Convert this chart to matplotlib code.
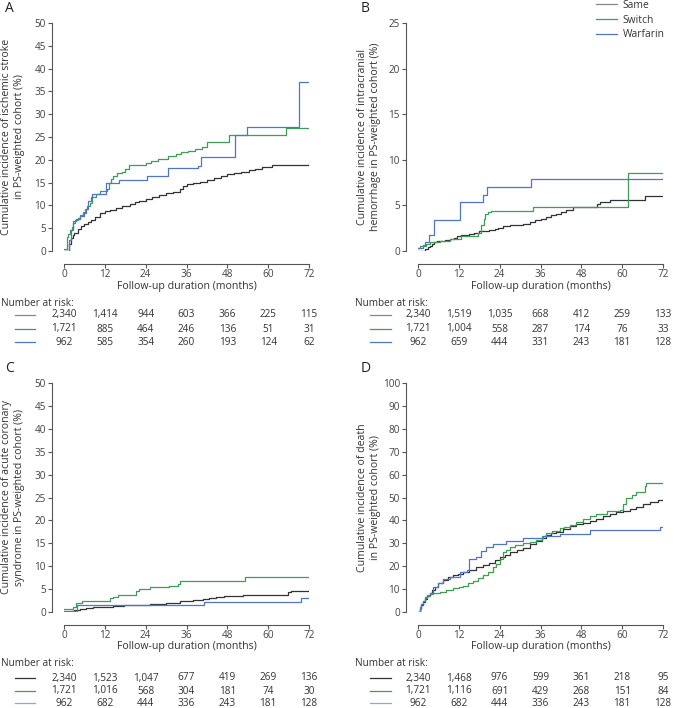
# Kaplan-Meier style cumulative incidence curves, 4 panels with number-at-risk tables
import matplotlib
matplotlib.use("Agg")
import matplotlib.pyplot as plt
from matplotlib.transforms import blended_transform_factory
from matplotlib.lines import Line2D

plt.rcParams['font.family'] = ['Open Sans', 'DejaVu Sans']

# colours
c_same = '#333333'
c_switch = '#3d9e55'
c_warf = '#4f74cc'
c_axis = '#555555'

months = [0, 12, 24, 36, 48, 60, 72]
groups = ['Same', 'Switch', 'Warfarin']

# ---- panel A: ischemic stroke
a_same_t = [0, 1.5, 2.0, 2.5, 3.0, 4.0, 5.0, 6.0, 7.0, 8.0, 9.0, 10.5, 12, 13.5, 15.4, 17, 19.3, 21, 22, 24, 26, 28, 30, 32, 34, 35, 36, 38, 40, 42, 44, 46, 48, 50, 52, 54.4, 56, 58.3, 61, 64, 72]
a_same_y = [0, 1.5, 2.8, 3.5, 4.0, 4.8, 5.4, 5.9, 6.4, 6.9, 7.5, 8.3, 8.8, 9.1, 9.5, 9.8, 10.2, 10.7, 11.0, 11.3, 11.8, 12.3, 12.7, 13.0, 13.5, 14.3, 14.8, 15.0, 15.1, 15.5, 16.0, 16.4, 16.8, 17.1, 17.4, 17.7, 18.0, 18.5, 18.8, 18.9, 19.0]
a_switch_t = [0, 0.8, 1.3, 1.8, 2.3, 2.7, 3.3, 4.0, 4.7, 5.5, 6.2, 6.8, 7.5, 8.2, 9.5, 10.5, 12.6, 13.2, 13.8, 14.5, 15.5, 17.0, 18.0, 19.0, 24.0, 25.5, 27.5, 30.5, 33.0, 34.5, 36.5, 38.5, 40.6, 42.1, 48.6, 65.3, 72]
a_switch_y = [0.4, 3.0, 3.8, 4.6, 5.3, 6.2, 6.8, 7.3, 7.8, 8.5, 9.2, 9.8, 10.6, 11.8, 12.6, 13.2, 13.6, 15.0, 15.8, 16.5, 17.0, 17.3, 18.0, 18.8, 19.3, 19.7, 20.1, 20.9, 21.3, 21.7, 22.0, 22.4, 22.7, 23.8, 25.4, 27.0, 27.0]
a_warf_t = [0, 1.5, 2.0, 2.6, 3.5, 4.7, 5.8, 6.5, 7.0, 7.8, 8.3, 12.4, 13.5, 16.3, 24.3, 30.5, 39.3, 40.3, 50.3, 53.9, 69.0, 72]
a_warf_y = [0, 2.5, 4.5, 6.5, 7.0, 7.6, 8.3, 9.3, 11.0, 11.8, 12.5, 14.9, 14.9, 15.6, 16.5, 18.1, 18.7, 20.6, 25.4, 27.3, 37.0, 37.0]
a_risk_same = [2340, 1414, 944, 603, 366, 225, 115]
a_risk_switch = [1721, 885, 464, 246, 136, 51, 31]
a_risk_warf = [962, 585, 354, 260, 193, 124, 62]

# ---- panel B: intracranial hemorrhage
b_same_t = [0, 2.0, 2.8, 3.4, 4.0, 4.6, 5.5, 6.5, 8.0, 9.5, 10.5, 11.5, 12.5, 13.5, 15.0, 16.5, 18.0, 21.0, 22.5, 23.5, 25.0, 27.0, 31.0, 33.0, 34.5, 36.0, 37.5, 39.0, 40.5, 42.0, 43.5, 45.5, 48.0, 52.5, 53.5, 56.3, 66.8, 72]
b_same_y = [0, 0.2, 0.4, 0.6, 0.8, 1.0, 1.05, 1.1, 1.2, 1.3, 1.45, 1.6, 1.7, 1.8, 1.9, 2.0, 2.2, 2.3, 2.4, 2.5, 2.7, 2.9, 3.0, 3.2, 3.4, 3.5, 3.7, 3.9, 4.1, 4.3, 4.5, 4.8, 4.85, 5.1, 5.4, 5.6, 6.0, 6.0]
b_switch_t = [0, 0.5, 2.4, 3.4, 6.4, 9.3, 12.5, 17.5, 18.6, 19.3, 19.8, 20.5, 21.5, 33.8, 61.6, 72]
b_switch_y = [0.3, 0.6, 0.8, 1.0, 1.15, 1.3, 1.6, 2.0, 2.8, 3.5, 4.1, 4.3, 4.4, 4.8, 8.6, 8.6]
b_warf_t = [0, 1.5, 2.2, 3.3, 4.6, 12.4, 19.2, 20.2, 33.3, 72]
b_warf_y = [0.3, 0.7, 1.0, 1.8, 3.4, 5.4, 6.1, 7.0, 7.9, 7.95]
b_risk_same = [2340, 1519, 1035, 668, 412, 259, 133]
b_risk_switch = [1721, 1004, 558, 287, 174, 76, 33]
b_risk_warf = [962, 659, 444, 331, 243, 181, 128]

# ---- panel C: acute coronary syndrome
c_same_t = [0, 2.0, 3.0, 4.7, 6.5, 8.6, 11.5, 14.4, 17.5, 20.3, 25.2, 30.0, 34.0, 36.0, 37.9, 40.8, 42.5, 44.7, 47.0, 49.6, 52.5, 65.7, 66.6, 72]
c_same_y = [0, 0.3, 0.5, 0.7, 0.85, 1.0, 1.15, 1.3, 1.45, 1.6, 1.8, 2.0, 2.3, 2.4, 2.6, 2.9, 3.1, 3.3, 3.45, 3.6, 3.8, 4.3, 4.6, 4.6]
c_switch_t = [0, 2.5, 3.5, 5.2, 13.5, 14.5, 15.9, 21.3, 22.0, 25.2, 31.0, 33.5, 34.0, 53.2, 72]
c_switch_y = [0.6, 1.2, 2.0, 2.5, 3.0, 3.3, 3.7, 4.6, 5.0, 5.4, 5.7, 6.2, 6.8, 7.6, 7.6]
c_warf_t = [0, 3.9, 41.0, 69.6, 72]
c_warf_y = [0.3, 1.5, 2.2, 3.1, 3.1]
c_risk_same = [2340, 1523, 1047, 677, 419, 269, 136]
c_risk_switch = [1721, 1016, 568, 304, 181, 74, 30]
c_risk_warf = [962, 682, 444, 336, 243, 181, 128]

# ---- panel D: death
d_same_t = [0, 0.5, 1.0, 1.5, 2.0, 2.7, 3.4, 4.2, 4.9, 6.0, 7.3, 8.8, 10.3, 11.8, 13.2, 15.0, 17.1, 19.0, 21.0, 22.5, 24.0, 25.5, 26.9, 29.0, 30.9, 33.0, 34.8, 36.3, 37.7, 39.0, 40.6, 42.5, 44.6, 46.5, 48.5, 50.5, 52.4, 54.5, 56.3, 58.2, 60.2, 62.2, 64.2, 66.2, 68.1, 70.5, 72]
d_same_y = [0, 1.5, 3.0, 4.3, 5.5, 7.0, 8.5, 9.8, 11.0, 12.6, 14.0, 15.1, 16.0, 16.8, 17.5, 18.5, 19.5, 20.5, 21.5, 22.7, 24.0, 25.0, 26.0, 27.0, 28.0, 29.5, 31.0, 32.3, 33.5, 34.3, 35.0, 36.3, 37.5, 38.3, 39.0, 39.8, 40.5, 41.8, 43.0, 43.5, 44.0, 45.0, 46.0, 47.0, 48.0, 49.0, 49.0]
d_switch_t = [0, 0.5, 1.0, 1.5, 2.0, 2.7, 3.4, 4.5, 6.4, 8.3, 10.3, 12.0, 13.2, 14.7, 16.2, 17.6, 19.1, 20.5, 22.0, 23.0, 24.0, 25.0, 26.0, 26.9, 28.5, 30.9, 32.8, 34.8, 36.3, 37.7, 39.5, 41.6, 43.0, 44.6, 46.5, 48.5, 50.5, 52.4, 55.4, 59.3, 60.2, 61.2, 62.8, 64.2, 66.6, 67.1, 72]
d_switch_y = [0, 1.5, 3.5, 5.0, 6.0, 7.2, 8.0, 8.5, 8.8, 9.5, 10.5, 11.0, 11.5, 12.5, 13.5, 14.7, 16.0, 17.5, 19.5, 21.0, 23.0, 26.0, 27.0, 28.5, 29.3, 30.0, 30.7, 31.5, 33.0, 34.5, 35.5, 36.5, 37.2, 38.0, 39.5, 40.5, 42.0, 43.0, 44.0, 44.5, 47.0, 50.0, 51.0, 52.5, 55.0, 56.5, 56.5]
d_warf_t = [0, 0.5, 1.0, 1.5, 2.0, 2.7, 3.4, 4.4, 5.9, 7.3, 9.3, 12.4, 14.4, 15.0, 17.1, 18.6, 20.1, 22.0, 26.0, 30.9, 36.7, 41.6, 50.4, 71.0, 72]
d_warf_y = [0, 2.0, 3.5, 5.0, 6.5, 7.5, 8.5, 11.0, 12.5, 14.5, 15.5, 17.5, 18.5, 23.0, 24.0, 26.5, 28.5, 29.5, 31.0, 32.5, 33.0, 34.0, 36.0, 37.0, 37.0]
d_risk_same = [2340, 1468, 976, 599, 361, 218, 95]
d_risk_switch = [1721, 1116, 691, 429, 268, 151, 84]
d_risk_warf = [962, 682, 444, 336, 243, 181, 128]

W, H = 673, 708
fig = plt.figure(figsize=(W / 100, H / 100), dpi=100)


def px(x, y):
    # pixel position -> figure fraction
    return x / W, 1 - y / H


panels = [
    dict(letter='A', left=64, top=23, bottom=251, ymax=50, ystep=5,
         ylabel='Cumulative incidence of ischemic stroke\nin PS-weighted cohort (%)', ylab_x=13,
         curves=[(a_same_t, a_same_y), (a_switch_t, a_switch_y), (a_warf_t, a_warf_y)],
         risk=[a_risk_same, a_risk_switch, a_risk_warf],
         risk_cols=['#888888', c_switch, c_warf], table_x=1, line_x=(15, 35),
         xlab_y=286, nar_y=303, rows_y=(315, 329, 342)),
    dict(letter='B', left=418, top=23, bottom=251, ymax=25, ystep=5,
         ylabel='Cumulative incidence of intracranial\nhemorrhage in PS-weighted cohort (%)', ylab_x=369,
         curves=[(b_same_t, b_same_y), (b_switch_t, b_switch_y), (b_warf_t, b_warf_y)],
         risk=[b_risk_same, b_risk_switch, b_risk_warf],
         risk_cols=['#888888', c_switch, c_warf], table_x=355, line_x=(370, 391),
         xlab_y=286, nar_y=303, rows_y=(315, 329, 342)),
    dict(letter='C', left=64, top=383, bottom=612, ymax=50, ystep=5,
         ylabel='Cumulative incidence of acute coronary\nsyndrome in PS-weighted cohort (%)', ylab_x=13,
         curves=[(c_same_t, c_same_y), (c_switch_t, c_switch_y), (c_warf_t, c_warf_y)],
         risk=[c_risk_same, c_risk_switch, c_risk_warf],
         risk_cols=[c_same, c_switch, '#8fa6e0'], table_x=1, line_x=(15, 35),
         xlab_y=646, nar_y=663, rows_y=(678, 691, 703)),
    dict(letter='D', left=418, top=383, bottom=612, ymax=100, ystep=10,
         ylabel='Cumulative incidence of death\nin PS-weighted cohort (%)', ylab_x=369,
         curves=[(d_same_t, d_same_y), (d_switch_t, d_switch_y), (d_warf_t, d_warf_y)],
         risk=[d_risk_same, d_risk_switch, d_risk_warf],
         risk_cols=[c_same, c_switch, '#8fa6e0'], table_x=355, line_x=(370, 391),
         xlab_y=646, nar_y=663, rows_y=(678, 691, 703)),
]

colors = [c_same, c_switch, c_warf]
fs = 7.2

for p in panels:
    l, b = px(p['left'], p['bottom'])
    ax = fig.add_axes([l, b, 245 / W, (p['bottom'] - p['top']) / H])
    for (t, y), col, name in zip(p['curves'], colors, groups):
        ax.plot(t, y, drawstyle='steps-post', color=col, lw=0.9, label=name)
    ax.set_xlim(0, 72)
    ax.set_ylim(0, p['ymax'])
    ax.set_xticks(months)
    ax.set_yticks(range(0, p['ymax'] + 1, p['ystep']))
    for s in ['top', 'right']:
        ax.spines[s].set_visible(False)
    ax.spines['left'].set_position(('outward', 8.5))
    ax.spines['bottom'].set_position(('outward', 9.4))
    ax.spines['left'].set_bounds(0, p['ymax'])
    ax.spines['bottom'].set_bounds(0, 72)
    for s in ['left', 'bottom']:
        ax.spines[s].set_color(c_axis)
        ax.spines[s].set_linewidth(0.8)
    ax.tick_params(colors=c_axis, labelcolor='#444444', labelsize=fs, length=3, width=0.8, pad=1.5)
    ax.tick_params(axis='x', pad=0.3)
    ax.patch.set_visible(False)

    # panel letter and y label
    fig.text(*px(p['left'] - 59 if p['letter'] in 'AC' else p['left'] - 57, p['top'] - 15),
             p['letter'], fontsize=10, va='center', ha='left', color='#222222')
    fig.text(*px(p['ylab_x'], (p['top'] + p['bottom']) / 2), p['ylabel'],
             rotation=90, ha='center', va='center', multialignment='center',
             fontsize=7.6, color='#333333', linespacing=1.15)

    tr = blended_transform_factory(ax.transData, fig.transFigure)
    ax.text(36, px(0, p['xlab_y'])[1], 'Follow-up duration (months)', transform=tr,
            ha='center', va='center', fontsize=7.6, color='#333333')
    fig.text(*px(p['table_x'], p['nar_y']), 'Number at risk:', ha='left', va='center',
             fontsize=fs, color='#333333')
    for counts, col, ry in zip(p['risk'], p['risk_cols'], p['rows_y']):
        x0, yy = px(p['line_x'][0], ry)
        x1, _ = px(p['line_x'][1], ry)
        fig.add_artist(Line2D([x0, x1], [yy, yy], color=col, lw=0.9))
        for m, n in zip(months, counts):
            ax.text(m, yy, f'{n:,}', transform=tr, ha='center', va='center',
                    fontsize=fs, color='#333333')

    if p['letter'] == 'B':
        ax.legend(loc='upper left', bbox_to_anchor=px(596, 0), bbox_transform=fig.transFigure,
                  frameon=False, fontsize=7.4, handlelength=2.0, handletextpad=0.6,
                  labelspacing=0.35, borderpad=0, borderaxespad=0)
        leg = ax.get_legend()
        leg.get_lines()[0].set_color('#888888')
        for txt in leg.get_texts():
            txt.set_color('#333333')

fig.savefig('out.png', dpi=100)
